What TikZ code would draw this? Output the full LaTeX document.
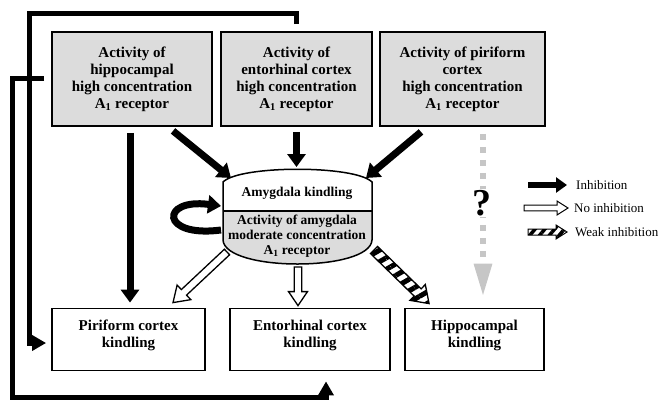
\documentclass[tikz,border=0pt]{standalone}
\usepackage{fontspec}
\setmainfont{Liberation Serif}
\usepackage{xcolor}
\usepackage{tikz}
\usetikzlibrary{positioning,calc,arrows.meta,patterns.meta}
\definecolor{actgray}{HTML}{DCDCDC}
\definecolor{qgray}{HTML}{C6C6C6}

% outlined block arrow: [style]{from}{to}{shaft half width}{head half width}{head length}
\newcommand{\blockarrow}[6][]{%
  \coordinate (ba-h) at ($(#3)!#6!(#2)$);
  \draw[#1] ($(#2)!#4!90:(#3)$) -- ($(ba-h)!#4!90:(#3)$) -- ($(ba-h)!#5!90:(#3)$)
    -- (#3) -- ($(ba-h)!#5!-90:(#3)$) -- ($(ba-h)!#4!-90:(#3)$)
    -- ($(#2)!#4!-90:(#3)$) -- cycle;
}

\begin{document}
\begin{tikzpicture}[x=1pt, y=-1pt,
  actbox/.style={draw, line width=1.8pt, fill=actgray, minimum height=94pt, inner sep=0pt,
    align=center, font=\bfseries\fontsize{15}{17}\selectfont},
  kindbox/.style={draw, line width=1.8pt, fill=white, minimum height=62pt, inner sep=0pt,
    text depth=12pt, align=center, font=\bfseries\fontsize{15}{17}\selectfont},
  inhib/.style={line width=7pt, -{Triangle[width=18pt,length=13pt]}},
  fbline/.style={line width=5pt, -{Triangle[width=15pt,length=14pt]}},
  noinhib/.style={draw, line width=1.3pt, fill=white},
  weakinhib/.style={draw, line width=1.3pt, pattern={Lines[angle=30,distance=10pt,line width=5pt]}},
  weaklegend/.style={draw, line width=1pt, pattern={Lines[angle=50,distance=7.5pt,line width=3.5pt]}},
  unknown/.style={draw=qgray, line width=6pt, dash pattern=on 6pt off 7pt,
    -{Triangle[width=17pt,length=33pt]}},
  legtext/.style={anchor=west, inner sep=0pt, font=\fontsize{13}{15}\selectfont}]

  \useasboundingbox (0,0) rectangle (664,400);

  % Receptor activity boxes (top row)
  \node[actbox, minimum width=160pt] (hipA) at (132,79)
    {Activity of\\hippocampal\\high concentration\\A\textsubscript{1} receptor};
  \node[actbox, minimum width=151pt] (entA) at (296.5,79)
    {Activity of\\entorhinal cortex\\high concentration\\A\textsubscript{1} receptor};
  \node[actbox, minimum width=165pt] (pirA) at (462.5,79)
    {Activity of piriform\\cortex\\high concentration\\A\textsubscript{1} receptor};

  % Kindling boxes (bottom row)
  \node[kindbox, minimum width=153pt] (pirK) at (128.5,339.5) {Piriform cortex\\kindling};
  \node[kindbox, minimum width=160pt] (entK) at (310,339.5) {Entorhinal cortex\\kindling};
  \node[kindbox, minimum width=139pt] (hipK) at (474.5,339.5) {Hippocampal\\kindling};

  % Amygdala barrel: white upper half, grey lower half
  \fill[white] (223,211) -- (223,182) .. controls (240,165) and (355,165) .. (372,182) -- (372,211) -- cycle;
  \fill[actgray] (223,211) -- (223,240) .. controls (225,272) and (370,272) .. (372,240) -- (372,211) -- cycle;
  \draw[line width=1.5pt] (223,182) .. controls (240,165) and (355,165) .. (372,182)
    -- (372,240) .. controls (370,272) and (225,272) .. (223,240) -- cycle;
  \draw[line width=1.2pt] (223,211) -- (372,211);
  \node[font=\bfseries\fontsize{13.5}{15}\selectfont] (amygK) at (297,193) {Amygdala kindling};
  \node[align=center, font=\bfseries\fontsize{13.5}{15}\selectfont] (amygA) at (297,236)
    {Activity of amygdala\\moderate concentration\\A\textsubscript{1} receptor};

  \coordinate (amyg-nw) at (231,178);
  \coordinate (amyg-n) at (296.5,167);
  \coordinate (amyg-ne) at (366,178);
  \coordinate (amyg-uw) at (221,206);
  \coordinate (amyg-lw) at (221,230);
  \coordinate (amyg-sw) at (227,252);
  \coordinate (amyg-s) at (298,267);
  \coordinate (amyg-se) at (374,250);

  % arrow ends on the boxes
  \coordinate (hipA-out) at ([xshift=-2pt,yshift=-6pt]hipA.south);
  \coordinate (hipA-diag) at ([xshift=41pt,yshift=-4pt]hipA.south);
  \coordinate (entA-out) at ([yshift=-5pt]entA.south);
  \coordinate (pirA-diag) at ([xshift=-41.5pt,yshift=-5pt]pirA.south);
  \coordinate (pirA-out) at ([xshift=20.5pt,yshift=-7pt]pirA.south);
  \coordinate (pirK-in) at ([xshift=44.5pt,yshift=5pt]pirK.north);
  \coordinate (entK-in) at ([xshift=-12pt,yshift=2pt]entK.north);
  \coordinate (hipK-in) at ([xshift=25pt,yshift=4pt]hipK.north west);
  \coordinate (hipK-top) at ([xshift=8.5pt,yshift=11pt]hipK.north);

  % Inhibition (black)
  \draw[inhib, shorten >=5pt] (hipA-out) -- (hipA-out |- pirK.north);
  \draw[inhib] (hipA-diag) -- (amyg-nw);
  \draw[inhib] (entA-out) -- (amyg-n);
  \draw[inhib] (pirA-diag) -- (amyg-ne);
  \draw[inhib] (amyg-lw) .. controls (160,238) and (160,198) .. (amyg-uw);

  % No inhibition / weak inhibition
  \blockarrow[noinhib]{amyg-sw}{pirK-in}{3.8pt}{10pt}{15pt}
  \blockarrow[noinhib]{amyg-s}{entK-in}{3.8pt}{9.5pt}{14pt}
  \blockarrow[weakinhib]{amyg-se}{hipK-in}{5pt}{11pt}{16pt}

  % Unknown effect
  \draw[unknown] (pirA-out) -- (hipK-top);
  \node[fill=white, inner sep=1pt, font=\bfseries\fontsize{38}{38}\selectfont] (qmark) at (482,203) {?};

  % Feedback lines round the outside
  \draw[fbline] ([yshift=7pt]entA.north) -- ++(0,-11) -| (29,343) -- ([shift={(-5pt,-3.5pt)}]pirK.west);
  \draw[fbline] ([xshift=-7pt,yshift=1pt]hipA.west) -| (12.5,397) -| ([shift={(16pt,-10pt)}]entK.south);

  % Legend
  \coordinate (lgI-s) at (528,185); \coordinate (lgI-e) at (567,185);
  \coordinate (lgN-s) at (524,208); \coordinate (lgN-e) at (568,208);
  \coordinate (lgW-s) at (528,232); \coordinate (lgW-e) at (567,232);
  \draw[line width=6pt, -{Triangle[width=15pt,length=11pt]}] (lgI-s) -- (lgI-e);
  \blockarrow[noinhib, line width=1pt]{lgN-s}{lgN-e}{2.8pt}{7pt}{11pt}
  \blockarrow[weaklegend]{lgW-s}{lgW-e}{3pt}{7pt}{11pt}
  \node[legtext] (lgI) at (576,185) {Inhibition};
  \node[legtext] (lgN) at (574,208) {No inhibition};
  \node[legtext] (lgW) at (575,232) {Weak inhibition};
\end{tikzpicture}
\end{document}
